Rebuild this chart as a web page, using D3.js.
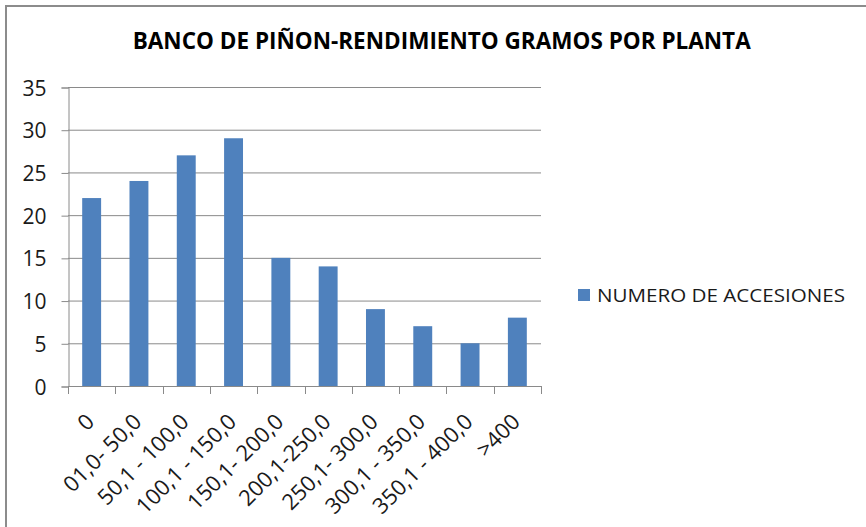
<!DOCTYPE html>
<html>
<head>
<meta charset="utf-8">
<script src="https://cdn.jsdelivr.net/npm/d3@7"></script>
<style>
  html, body { margin: 0; padding: 0; background: #fff; }
  svg { display: block; }
</style>
</head>
<body>
<script>
const categories = ["0", "01,0- 50,0", "50,1 - 100,0", "100,1 - 150,0", "150,1- 200,0", "200,1-250,0", "250,1- 300,0", "300,1 - 350,0", "350,1 - 400,0", ">400"];
const values = [22, 24, 27, 29, 15, 14, 9, 7, 5, 8];
const yTicks = [0, 5, 10, 15, 20, 25, 30, 35];
const seriesName = "NUMERO DE ACCESIONES";
const title = "BANCO DE PIÑON-RENDIMIENTO GRAMOS POR PLANTA";

const W = 866, H = 527;
const svg = d3.select("body").append("svg").attr("width", W).attr("height", H);

// chart border (left & top visible)
svg.append("path")
  .attr("d", `M6,${H} L6,6 L${W},6`)
  .attr("fill", "none").attr("stroke", "#8c8c8c").attr("stroke-width", 2);

const plot = { left: 68, right: 541, top: 87, bottom: 386 };

const x = d3.scaleBand().domain(categories)
  .range([plot.left, plot.right]).paddingInner(0.6).paddingOuter(0.3);
const y = d3.scaleLinear().domain([0, 35]).range([plot.bottom, plot.top]);

const gridColor = "#8a8a8a";
const textColor = "#1a1a1a";

// gridlines
svg.append("g").selectAll("line").data(yTicks.filter(d => d > 0)).join("line")
  .attr("x1", plot.left).attr("x2", plot.right)
  .attr("y1", d => y(d) + 0.5).attr("y2", d => y(d) + 0.5)
  .attr("stroke", gridColor).attr("stroke-width", 1);

// y axis
const yAxis = d3.axisLeft(y).tickValues(yTicks).tickSize(7).tickPadding(15).tickFormat(d3.format("d"));
const gy = svg.append("g").attr("transform", `translate(${plot.left + 0.5},0.5)`).call(yAxis);
gy.select(".domain").attr("stroke", gridColor);
gy.selectAll(".tick line").attr("stroke", gridColor);
gy.selectAll(".tick text")
  .attr("font-family", "'Open Sans', sans-serif").attr("font-size", 21)
  .attr("fill", textColor).attr("dy", "0.36em");

// bars
svg.append("g").selectAll("rect").data(values).join("rect")
  .attr("x", (d, i) => x(categories[i]))
  .attr("width", x.bandwidth())
  .attr("y", d => y(d))
  .attr("height", d => y(0) - y(d))
  .attr("fill", "#4f81bd");

// x axis line and ticks at category boundaries
const step = x.step();
const boundaries = categories.map(c => x(c) - step * 0.3).concat([plot.right]);
svg.append("line")
  .attr("x1", plot.left).attr("x2", plot.right)
  .attr("y1", y(0) + 0.5).attr("y2", y(0) + 0.5)
  .attr("stroke", gridColor);
svg.append("g").selectAll("line").data(boundaries).join("line")
  .attr("x1", d => Math.round(d) + 0.5).attr("x2", d => Math.round(d) + 0.5)
  .attr("y1", y(0)).attr("y2", y(0) + 8)
  .attr("stroke", gridColor);

// x labels rotated
svg.append("g").selectAll("text").data(categories).join("text")
  .attr("transform", d => `translate(${x(d) + x.bandwidth() / 2 + 4},${y(0) + 37}) rotate(-45)`)
  .attr("text-anchor", "end")
  .attr("font-family", "'Open Sans', sans-serif").attr("font-size", 22)
  .attr("fill", textColor)
  .text(d => d);

// title
svg.append("text")
  .attr("x", 441.7).attr("y", 49)
  .attr("text-anchor", "middle")
  .attr("font-family", "'Open Sans', sans-serif").attr("font-weight", "bold").attr("font-size", 23)
  .attr("textLength", 618).attr("lengthAdjust", "spacingAndGlyphs")
  .attr("fill", "#000")
  .text(title);

// legend
const lg = svg.append("g");
lg.append("rect").attr("x", 578).attr("y", 289).attr("width", 12).attr("height", 12).attr("fill", "#4f81bd");
lg.append("text").attr("x", 597).attr("y", 302)
  .attr("font-family", "'Open Sans', sans-serif").attr("font-size", 18)
  .attr("textLength", 248).attr("lengthAdjust", "spacingAndGlyphs")
  .attr("fill", textColor)
  .text(seriesName);
</script>
</body>
</html>
